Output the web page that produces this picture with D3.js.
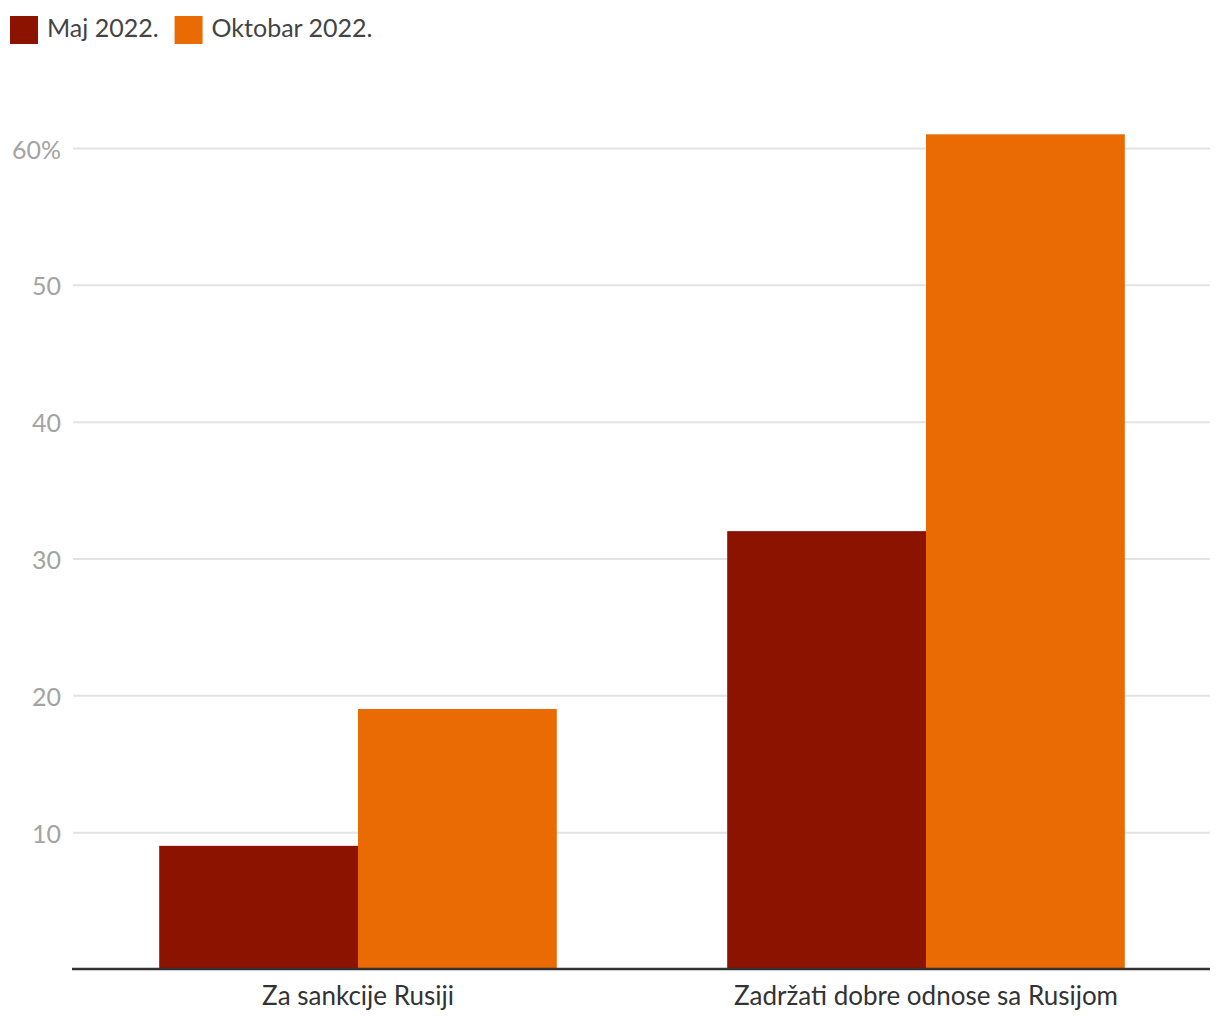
<!DOCTYPE html>
<html><head><meta charset="utf-8">
<script src="https://cdn.jsdelivr.net/npm/d3@7"></script>
<style>body{margin:0;background:#fff;} svg{display:block;}</style>
</head><body>
<svg id="c" width="1220" height="1020"></svg>
<script>
const categories = ["Za sankcije Rusiji", "Zadržati dobre odnose sa Rusijom"];
const seriesNames = ["Maj 2022.", "Oktobar 2022."];
const maj2022 = [9, 32];
const oktobar2022 = [19, 61];
const yTicks = [10, 20, 30, 40, 50, 60];
const colors = ["#8b1300", "#ea6a04"];

const svg = d3.select("#c");
const font = "Lato, 'Open Sans', sans-serif";
const x0 = d3.scaleBand().domain(categories).range([74, 1210]).paddingInner(0.3).paddingOuter(0.15);
const x1 = d3.scaleBand().domain(seriesNames).range([0, x0.bandwidth()]);
const y = d3.scaleLinear().domain([0, 60]).range([969, 148]);

// gridlines
const yAxis = d3.axisLeft(y).tickValues(yTicks).tickSize(-(1210 - 73)).tickFormat(d => d === 60 ? "60%" : d);
const gy = svg.append("g").attr("transform", "translate(73,0)").call(yAxis);
gy.select(".domain").remove();
gy.selectAll(".tick line").attr("stroke", "#e3e3e3").attr("stroke-width", 2);
gy.selectAll(".tick text").attr("x", -12).attr("y", 2).attr("fill", "#a3a3a3").style("font-family", font).style("font-size", "25px").attr("dy", "0.32em");

const data = [maj2022, oktobar2022];
categories.forEach((c, i) => {
  seriesNames.forEach((s, j) => {
    svg.append("rect")
      .attr("x", x0(c) + x1(s))
      .attr("y", y(data[j][i]))
      .attr("width", x1.bandwidth())
      .attr("height", y(0) - y(data[j][i]))
      .attr("fill", colors[j]);
  });
});

// x axis
const xAxis = d3.axisBottom(x0).tickSize(0).tickPadding(18);
const gx = svg.append("g").attr("transform", "translate(0,969)").call(xAxis);
gx.select(".domain").attr("d", "M72,0H1210").attr("stroke", "#333").attr("stroke-width", 2.5);
gx.selectAll(".tick text").attr("fill", "#333").style("font-family", font).style("font-size", "26px");

// legend
const lg = svg.append("g");
let lx = 10;
seriesNames.forEach((s, j) => {
  lg.append("rect").attr("x", lx).attr("y", 16).attr("width", 28).attr("height", 28).attr("fill", colors[j]);
  const t = lg.append("text").attr("x", lx + 37).attr("y", 28).attr("dy", "0.35em").attr("fill", "#444")
    .style("font-family", font).style("font-size", "25px").text(s);
  lx = lx + 37 + t.node().getComputedTextLength() + 16;
});
</script>
</body></html>
